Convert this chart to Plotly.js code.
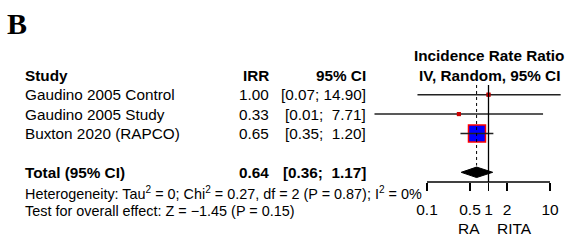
<!DOCTYPE html>
<html><head><meta charset="utf-8">
<script src="https://cdn.plot.ly/plotly-3.0.1.min.js"></script>
<style>html,body{margin:0;padding:0;background:#fff}#c{width:568px;height:240px}</style>
</head><body><div id="c"></div>
<script>
const studies = ["Gaudino 2005 Control", "Gaudino 2005 Study", "Buxton 2020 (RAPCO)"];
const irr = [1.00, 0.33, 0.65];
const lower = [0.07, 0.014, 0.35];
const upper = [14.90, 7.71, 1.20];
const rows = [1, 2, 3];
const boxSize = [4, 4, 17];
const total = {label: "Total (95% CI)", est: 0.64, lo: 0.36, hi: 1.17, row: 5};
const tickVals = [0.1, 0.5, 1, 2, 10];
const tickText = ["0.1", "0.5", "1", "2", "10"];
const favours = ["RA", "RITA"];

const W = 568, PH = 182;
const F = "Liberation Sans, Arial, sans-serif";
const fs = 15.3;
function px(p){return p/W;}
function py(p){return (PH - p)/PH;}
function fmt(v){return v.toFixed(2);}
function ci(lo, hi){return "[" + fmt(lo) + ";" + (fmt(hi).length<5?"\u00a0\u00a0":"\u00a0") + fmt(hi) + "]";}

const traces = [];
studies.forEach((s, i) => {
  traces.push({x:[irr[i]], y:[rows[i]], type:'scatter', mode:'markers', cliponaxis:false,
    marker:{symbol:'square', size:boxSize[i], color: i===2 ? '#0000ff' : '#cc0000',
      line:{color: i===2 ? '#ff0000' : '#cc0000', width: i===2 ? 1.5 : 0}}, hoverinfo:'skip'});
});
studies.forEach((s, i) => {
  traces.push({x:[lower[i], upper[i]], y:[rows[i], rows[i]], type:'scatter', mode:'lines', cliponaxis:false,
    line:{color:'#222', width:1.5}, hoverinfo:'skip'});
});
studies.forEach((s, i) => {
  if (boxSize[i] < 8) traces.push({x:[irr[i]], y:[rows[i]], type:'scatter', mode:'markers',
    marker:{symbol:'square', size:boxSize[i], color:'#cc0000'}, hoverinfo:'skip'});
});
const h = 0.27;
traces.push({x:[total.lo, total.est, total.hi, total.est, total.lo],
  y:[total.row, total.row - h, total.row, total.row + h, total.row],
  type:'scatter', mode:'lines', fill:'toself', fillcolor:'#000', line:{color:'#000', width:1}, hoverinfo:'skip'});

const ann = [];
function A(x, y, text, opt){ann.push(Object.assign({xref:'paper', yref:'y', x:px(x), y:y, text:text, showarrow:false,
  xanchor:'left', yanchor:'middle', font:{family:F, size:fs, color:'#000'}}, opt||{}));}
A(5, py(23), "<b>B</b>", {yref:'paper', font:{family:"Liberation Serif, Times New Roman, serif", size:30, color:'#000'}});
A(23, 0, "<b>Study</b>");
A(271, 0, "<b>IRR</b>", {xanchor:'right'});
A(368, 0, "<b>95% CI</b>", {xanchor:'right'});
A(489, -1, "<b>Incidence Rate Ratio</b>", {xanchor:'center'});
A(489, 0, "<b>IV, Random, 95% CI</b>", {xanchor:'center'});
studies.forEach((s, i) => {
  A(23, rows[i], s);
  A(271, rows[i], fmt(irr[i]), {xanchor:'right'});
  A(368, rows[i], ci(lower[i], upper[i]), {xanchor:'right'});
});
A(23, total.row, "<b>" + total.label + "</b>");
A(271, total.row, "<b>" + fmt(total.est) + "</b>", {xanchor:'right'});
A(368, total.row, "<b>" + ci(total.lo, total.hi) + "</b>", {xanchor:'right'});
const sf = {family:F, size:14.4, color:'#000'};
A(23, py(192.5), "Heterogeneity: Tau<sup>2</sup> = 0; Chi<sup>2</sup> = 0.27, df = 2 (P = 0.87); I<sup>2</sup> = 0%", {yref:'paper', font:sf});
A(23, py(211), "Test for overall effect: Z = \u22121.45 (P = 0.15)", {yref:'paper', font:sf});
A(469, py(228), favours[0], {yref:'paper', xanchor:'center', font:{family:F, size:15.5, color:'#000'}});
A(514, py(228), favours[1], {yref:'paper', xanchor:'center', font:{family:F, size:15.5, color:'#000'}});

const shapes = [
  {type:'line', xref:'x', yref:'paper', x0:0.1, x1:10, y0:0, y1:0, line:{color:'#000', width:1.3}},
  {type:'line', xref:'x', yref:'y', x0:1, x1:1, y0:0.5, y1:5.5, line:{color:'#000', width:1.3}},
  {type:'line', xref:'x', yref:'y', x0:total.est, x1:total.est, y0:0.5, y1:4.65, line:{color:'#000', width:1, dash:'dot'}}
];

const layout = {
  width:568, height:240, margin:{l:0, r:0, t:0, b:240-PH}, paper_bgcolor:'#fff', plot_bgcolor:'rgba(0,0,0,0)',
  showlegend:false,
  xaxis:{type:'log', range:[-1 - 427/61.5, 1 + 18/61.5], tickvals:tickVals, ticktext:tickText,
    ticks:'outside', ticklen:8, tickwidth:1.3, tickcolor:'#000', showline:false, showgrid:false, zeroline:false,
    ticklabelstandoff:5, tickfont:{family:F, size:15.5, color:'#000'}, fixedrange:true},
  yaxis:{range:[5.5, -3.88], visible:false, showgrid:false, zeroline:false, fixedrange:true},
  shapes:shapes, annotations:ann
};
Plotly.newPlot('c', traces, layout, {staticPlot:true, displayModeBar:false});
</script></body></html>
